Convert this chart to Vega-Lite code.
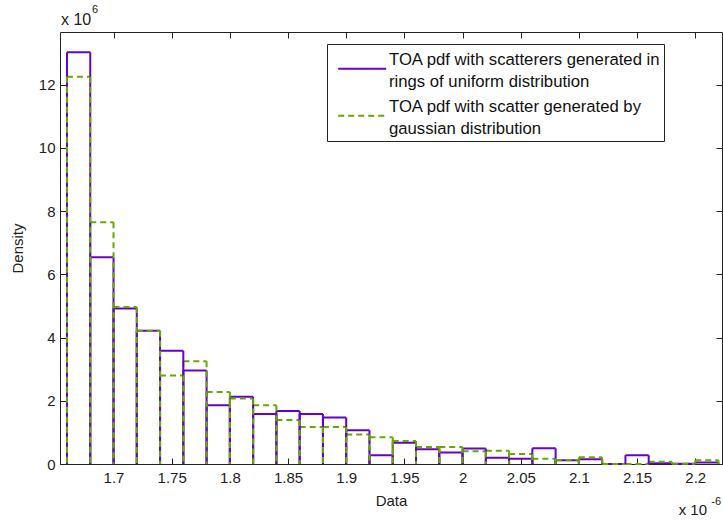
{
  "$schema": "https://vega.github.io/schema/vega-lite/v6.json",
  "width": 662,
  "height": 432,
  "autosize": {"type": "none"},
  "padding": {"left": 60, "top": 32, "right": 1, "bottom": 58},
  "background": "white",
  "config": {
    "view": {"stroke": "#222", "strokeWidth": 1},
    "font": "Liberation Sans",
    "style": {"guide-label": {"lineHeight": 22}}
  },
  "datasets": {
    "bins": [
      {"series": "U", "start": 1.66, "end": 1.68, "density": 13.03},
      {"series": "U", "start": 1.68, "end": 1.70, "density": 6.54},
      {"series": "U", "start": 1.70, "end": 1.72, "density": 4.92},
      {"series": "U", "start": 1.72, "end": 1.74, "density": 4.22},
      {"series": "U", "start": 1.74, "end": 1.76, "density": 3.58},
      {"series": "U", "start": 1.76, "end": 1.78, "density": 2.96},
      {"series": "U", "start": 1.78, "end": 1.80, "density": 1.86},
      {"series": "U", "start": 1.80, "end": 1.82, "density": 2.13},
      {"series": "U", "start": 1.82, "end": 1.84, "density": 1.58},
      {"series": "U", "start": 1.84, "end": 1.86, "density": 1.68},
      {"series": "U", "start": 1.86, "end": 1.88, "density": 1.58},
      {"series": "U", "start": 1.88, "end": 1.90, "density": 1.47},
      {"series": "U", "start": 1.90, "end": 1.92, "density": 1.07},
      {"series": "U", "start": 1.92, "end": 1.94, "density": 0.28},
      {"series": "U", "start": 1.94, "end": 1.96, "density": 0.67},
      {"series": "U", "start": 1.96, "end": 1.98, "density": 0.47},
      {"series": "U", "start": 1.98, "end": 2.00, "density": 0.36},
      {"series": "U", "start": 2.00, "end": 2.02, "density": 0.49},
      {"series": "U", "start": 2.02, "end": 2.04, "density": 0.20},
      {"series": "U", "start": 2.04, "end": 2.06, "density": 0.17},
      {"series": "U", "start": 2.06, "end": 2.08, "density": 0.50},
      {"series": "U", "start": 2.08, "end": 2.10, "density": 0.12},
      {"series": "U", "start": 2.10, "end": 2.12, "density": 0.15},
      {"series": "U", "start": 2.12, "end": 2.14, "density": 0.0},
      {"series": "U", "start": 2.14, "end": 2.16, "density": 0.28},
      {"series": "U", "start": 2.16, "end": 2.18, "density": 0.02},
      {"series": "U", "start": 2.18, "end": 2.20, "density": 0.01},
      {"series": "U", "start": 2.20, "end": 2.22, "density": 0.05},
      {"series": "G", "start": 1.66, "end": 1.68, "density": 12.25},
      {"series": "G", "start": 1.68, "end": 1.70, "density": 7.65},
      {"series": "G", "start": 1.70, "end": 1.72, "density": 4.97},
      {"series": "G", "start": 1.72, "end": 1.74, "density": 4.22},
      {"series": "G", "start": 1.74, "end": 1.76, "density": 2.80},
      {"series": "G", "start": 1.76, "end": 1.78, "density": 3.25},
      {"series": "G", "start": 1.78, "end": 1.80, "density": 2.28},
      {"series": "G", "start": 1.80, "end": 1.82, "density": 2.07},
      {"series": "G", "start": 1.82, "end": 1.84, "density": 1.86},
      {"series": "G", "start": 1.84, "end": 1.86, "density": 1.39},
      {"series": "G", "start": 1.86, "end": 1.88, "density": 1.17},
      {"series": "G", "start": 1.88, "end": 1.90, "density": 1.17},
      {"series": "G", "start": 1.90, "end": 1.92, "density": 0.93},
      {"series": "G", "start": 1.92, "end": 1.94, "density": 0.85},
      {"series": "G", "start": 1.94, "end": 1.96, "density": 0.73},
      {"series": "G", "start": 1.96, "end": 1.98, "density": 0.54},
      {"series": "G", "start": 1.98, "end": 2.00, "density": 0.54},
      {"series": "G", "start": 2.00, "end": 2.02, "density": 0.40},
      {"series": "G", "start": 2.02, "end": 2.04, "density": 0.42},
      {"series": "G", "start": 2.04, "end": 2.06, "density": 0.32},
      {"series": "G", "start": 2.06, "end": 2.08, "density": 0.17},
      {"series": "G", "start": 2.08, "end": 2.10, "density": 0.12},
      {"series": "G", "start": 2.10, "end": 2.12, "density": 0.21},
      {"series": "G", "start": 2.12, "end": 2.14, "density": 0.0},
      {"series": "G", "start": 2.14, "end": 2.16, "density": 0.0},
      {"series": "G", "start": 2.16, "end": 2.18, "density": 0.07},
      {"series": "G", "start": 2.18, "end": 2.20, "density": 0.01},
      {"series": "G", "start": 2.20, "end": 2.22, "density": 0.12}
    ],
    "one": [{}]
  },
  "resolve": {"axis": {"x": "independent", "y": "independent"}},
  "layer": [
    {
      "data": {"name": "bins"},
      "mark": {"type": "rule", "strokeWidth": 2},
      "encoding": {
        "x": {
          "field": "start", "type": "quantitative",
          "scale": {"domain": [1.654, 2.223], "nice": false, "zero": false},
          "axis": {
            "values": [1.7, 1.75, 1.8, 1.85, 1.9, 1.95, 2, 2.05, 2.1, 2.15, 2.2],
            "format": "~g", "domain": false, "grid": false,
            "tickSize": -6, "tickColor": "#222", "labelPadding": 12,
            "labelFontSize": 15, "labelColor": "#222",
            "title": "Data", "titleFontSize": 15, "titleFontWeight": "normal", "titleColor": "#222", "titlePadding": 8
          }
        },
        "x2": {"field": "end"},
        "y": {
          "field": "density", "type": "quantitative",
          "scale": {"domain": [0, 13.67], "nice": false, "zero": true},
          "axis": {
            "values": [0, 2, 4, 6, 8, 10, 12],
            "domain": false, "grid": false,
            "tickSize": -6, "tickColor": "#222", "labelPadding": 11,
            "labelFontSize": 15, "labelColor": "#222",
            "title": "Density", "titleFontSize": 15, "titleFontWeight": "normal", "titleColor": "#222", "titlePadding": 13
          }
        },
        "color": {
          "field": "series", "type": "nominal",
          "scale": {"domain": ["U", "G"], "range": ["#6600cc", "#66aa00"]},
          "legend": {
            "title": null, "orient": "none", "legendX": 267, "legendY": 12,
            "symbolType": "M-0.4,0.72H3.6", "symbolSize": 576, "symbolStrokeWidth": 2,
            "labelExpr": "datum.label == 'U' ? ['TOA pdf with scatterers generated in\u00a0\u00a0\u00a0', '\u00a0rings of uniform distribution'] : ['TOA pdf with scatter generated by', 'gaussian distribution']",
            "labelFontSize": 16.7, "labelColor": "#111", "labelLimit": 400, "labelOffset": 33,
            "strokeColor": "#222", "fillColor": "white", "padding": 3, "rowPadding": 3
          }
        },
        "strokeDash": {
          "field": "series", "type": "nominal",
          "scale": {"domain": ["U", "G"], "range": [[1, 0], [6, 4]]},
          "legend": {
            "title": null, "orient": "none", "legendX": 267, "legendY": 12,
            "symbolType": "M-0.4,0.72H3.6", "symbolSize": 576, "symbolStrokeWidth": 2,
            "labelExpr": "datum.label == 'U' ? ['TOA pdf with scatterers generated in\u00a0\u00a0\u00a0', '\u00a0rings of uniform distribution'] : ['TOA pdf with scatter generated by', 'gaussian distribution']",
            "labelFontSize": 16.7, "labelColor": "#111", "labelLimit": 400, "labelOffset": 33,
            "strokeColor": "#222", "fillColor": "white", "padding": 3, "rowPadding": 3
          }
        }
      }
    },
    {
      "data": {"name": "bins"},
      "mark": {"type": "rule", "strokeWidth": 2},
      "encoding": {
        "x": {"field": "start", "type": "quantitative", "axis": null},
        "y": {"field": "density", "type": "quantitative", "axis": null},
        "y2": {"datum": 0},
        "color": {"field": "series", "type": "nominal"},
        "strokeDash": {"field": "series", "type": "nominal"}
      }
    },
    {
      "data": {"name": "bins"},
      "mark": {"type": "rule", "strokeWidth": 2},
      "encoding": {
        "x": {"field": "end", "type": "quantitative", "axis": null},
        "y": {"field": "density", "type": "quantitative", "axis": null},
        "y2": {"datum": 0},
        "color": {"field": "series", "type": "nominal"},
        "strokeDash": {"field": "series", "type": "nominal"}
      }
    },
    {
      "data": {"name": "one"},
      "mark": {"type": "text", "text": "x 10", "align": "left", "baseline": "alphabetic", "fontSize": 16, "fontWeight": "normal", "color": "#222", "dx": 1, "dy": -7},
      "encoding": {
        "x": {"datum": 1.654, "type": "quantitative",
          "axis": {"orient": "top", "values": [1.7, 1.75, 1.8, 1.85, 1.9, 1.95, 2, 2.05, 2.1, 2.15, 2.2], "labels": false, "domain": false, "grid": false, "tickSize": -6, "tickColor": "#222", "title": null}},
        "y": {"datum": 13.67, "type": "quantitative",
          "axis": {"orient": "right", "values": [0, 2, 4, 6, 8, 10, 12], "labels": false, "domain": false, "grid": false, "tickSize": -6, "tickColor": "#222", "title": null}}
      }
    },
    {
      "data": {"name": "one"},
      "mark": {"type": "text", "text": "6", "align": "left", "baseline": "alphabetic", "fontSize": 11, "color": "#222", "dx": 32, "dy": -19},
      "encoding": {
        "x": {"datum": 1.654, "type": "quantitative", "axis": null},
        "y": {"datum": 13.67, "type": "quantitative", "axis": null}
      }
    },
    {
      "data": {"name": "one"},
      "mark": {"type": "text", "text": "x 10", "align": "right", "baseline": "alphabetic", "fontSize": 15, "color": "#222", "dx": -15, "dy": 51},
      "encoding": {
        "x": {"datum": 2.223, "type": "quantitative", "axis": null},
        "y": {"datum": 0, "type": "quantitative", "axis": null}
      }
    },
    {
      "data": {"name": "one"},
      "mark": {"type": "text", "text": "-6", "align": "right", "baseline": "alphabetic", "fontSize": 11, "color": "#222", "dx": -1, "dy": 41},
      "encoding": {
        "x": {"datum": 2.223, "type": "quantitative", "axis": null},
        "y": {"datum": 0, "type": "quantitative", "axis": null}
      }
    }
  ]
}
